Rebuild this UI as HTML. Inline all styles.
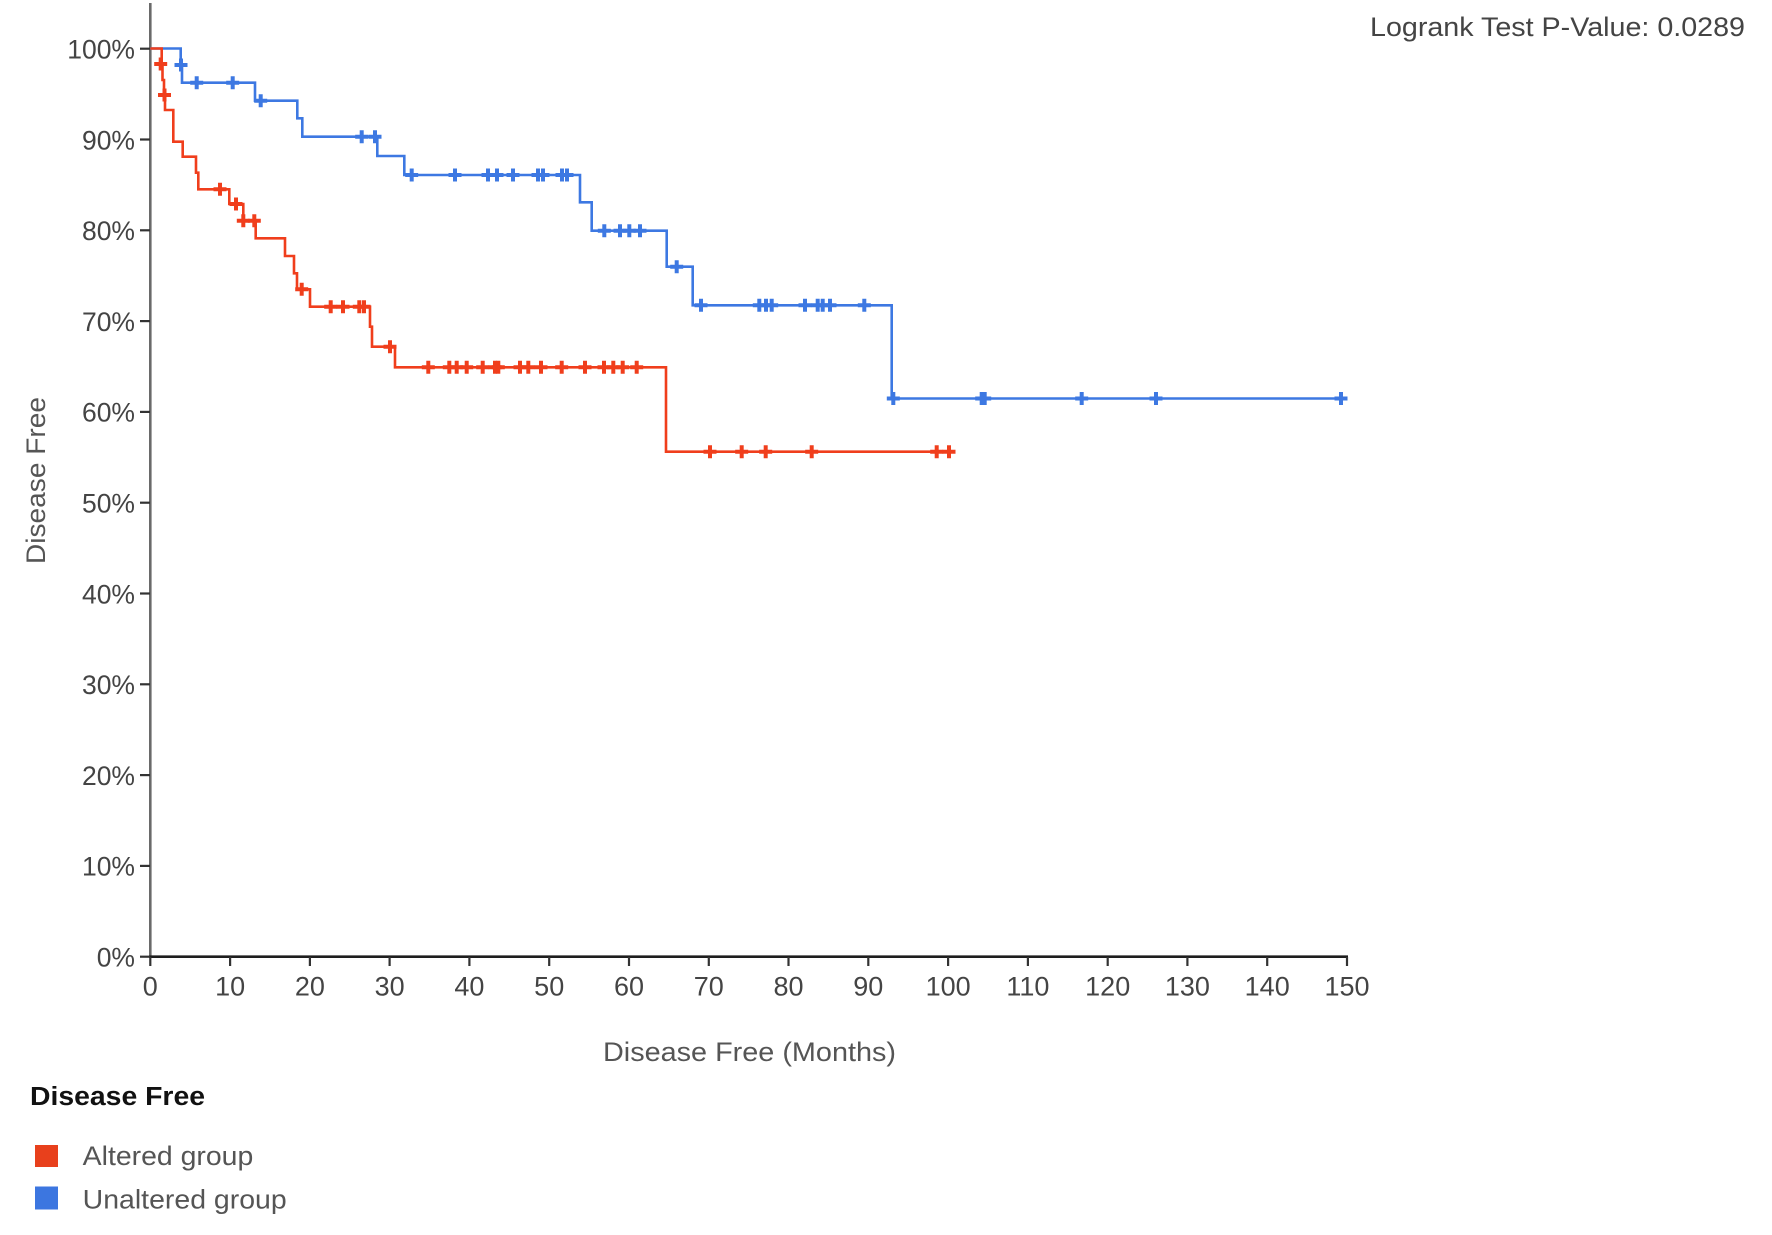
<!DOCTYPE html>
<html>
<head>
<meta charset="utf-8">
<style>
html,body{margin:0;padding:0;background:#fff;}
svg{display:block;}
text{font-family:"Liberation Sans",Arial,sans-serif;}
</style>
</head>
<body>
<svg width="1772" height="1235" viewBox="0 0 1772 1235" xmlns="http://www.w3.org/2000/svg">
<rect width="1772" height="1235" fill="#fff"/>

<!-- Axes -->
<line x1="150.3" y1="3" x2="150.3" y2="957.5" stroke="#6a6a6a" stroke-width="2.6"/>
<line x1="149" y1="956.7" x2="1348" y2="956.7" stroke="#1e1e1e" stroke-width="2.6"/>

<!-- Y ticks -->
<g stroke="#333" stroke-width="2.2">
<line x1="140" y1="48.7" x2="150" y2="48.7"/>
<line x1="140" y1="139.5" x2="150" y2="139.5"/>
<line x1="140" y1="230.3" x2="150" y2="230.3"/>
<line x1="140" y1="321.1" x2="150" y2="321.1"/>
<line x1="140" y1="411.9" x2="150" y2="411.9"/>
<line x1="140" y1="502.7" x2="150" y2="502.7"/>
<line x1="140" y1="593.5" x2="150" y2="593.5"/>
<line x1="140" y1="684.3" x2="150" y2="684.3"/>
<line x1="140" y1="775.1" x2="150" y2="775.1"/>
<line x1="140" y1="865.9" x2="150" y2="865.9"/>
<line x1="140" y1="956.7" x2="150" y2="956.7"/>
</g>
<g font-size="26.5" fill="#444" text-anchor="end">
<text x="135" y="58.5">100%</text>
<text x="135" y="149.3">90%</text>
<text x="135" y="240.1">80%</text>
<text x="135" y="330.9">70%</text>
<text x="135" y="421.7">60%</text>
<text x="135" y="512.5">50%</text>
<text x="135" y="603.3">40%</text>
<text x="135" y="694.1">30%</text>
<text x="135" y="784.9">20%</text>
<text x="135" y="875.7">10%</text>
<text x="135" y="966.5">0%</text>
</g>

<!-- X ticks -->
<g stroke="#333" stroke-width="2.2">
<line x1="150.3" y1="957" x2="150.3" y2="966"/>
<line x1="230.1" y1="957" x2="230.1" y2="966"/>
<line x1="309.9" y1="957" x2="309.9" y2="966"/>
<line x1="389.6" y1="957" x2="389.6" y2="966"/>
<line x1="469.4" y1="957" x2="469.4" y2="966"/>
<line x1="549.2" y1="957" x2="549.2" y2="966"/>
<line x1="629.0" y1="957" x2="629.0" y2="966"/>
<line x1="708.8" y1="957" x2="708.8" y2="966"/>
<line x1="788.5" y1="957" x2="788.5" y2="966"/>
<line x1="868.3" y1="957" x2="868.3" y2="966"/>
<line x1="948.1" y1="957" x2="948.1" y2="966"/>
<line x1="1027.9" y1="957" x2="1027.9" y2="966"/>
<line x1="1107.7" y1="957" x2="1107.7" y2="966"/>
<line x1="1187.4" y1="957" x2="1187.4" y2="966"/>
<line x1="1267.2" y1="957" x2="1267.2" y2="966"/>
<line x1="1347" y1="957" x2="1347" y2="966"/>
</g>
<g font-size="27" fill="#444" text-anchor="middle">
<text x="150.3" y="995.5">0</text>
<text x="230.1" y="995.5">10</text>
<text x="309.9" y="995.5">20</text>
<text x="389.6" y="995.5">30</text>
<text x="469.4" y="995.5">40</text>
<text x="549.2" y="995.5">50</text>
<text x="629.0" y="995.5">60</text>
<text x="708.8" y="995.5">70</text>
<text x="788.5" y="995.5">80</text>
<text x="868.3" y="995.5">90</text>
<text x="948.1" y="995.5">100</text>
<text x="1027.9" y="995.5">110</text>
<text x="1107.7" y="995.5">120</text>
<text x="1187.4" y="995.5">130</text>
<text x="1267.2" y="995.5">140</text>
<text x="1347" y="995.5">150</text>
</g>

<!-- Axis titles -->
<text x="603" y="1061" font-size="27" fill="#555" textLength="293" lengthAdjust="spacingAndGlyphs">Disease Free (Months)</text>
<text transform="translate(45,564) rotate(-90)" x="0" y="0" font-size="27" fill="#555" textLength="167" lengthAdjust="spacingAndGlyphs">Disease Free</text>

<!-- Logrank -->
<text x="1370" y="36" font-size="27" fill="#444" textLength="375" lengthAdjust="spacingAndGlyphs">Logrank Test P-Value: 0.0289</text>

<!-- Blue curve (unaltered) -->
<path fill="none" stroke="#3d78e2" stroke-width="2.6" d="M150.3,48.5 H180.7 V65 H182 V82.7 H255 V100.7 H297.3 V118.3 H302.3 V136.7 H377.3 V156 H404.3 V175 H580 V202.3 H591.7 V230.7 H666.7 V266.7 H692.7 V305.3 H891.7 V398.5 H1341"/>
<!-- Red curve (altered) -->
<path fill="none" stroke="#f03e1c" stroke-width="2.6" d="M150.3,48.5 H161.7 V65 H162.5 V80 H164 V95 H165 V110 H173.3 V141.7 H182.7 V156.7 H196 V172.7 H198.3 V189.3 H229.3 V204 H243.3 V220.7 H255.7 V238.3 H285 V256 H294 V273.3 H297 V289.3 H310 V306.7 H370 V326.7 H372 V346.7 H395 V367.3 H666 V451.7 H950"/>

<!-- Censor marks -->
<g stroke="#3d78e2" stroke-width="4" fill="none">
<path d="M174.5,65h13M181,58.5v13"/>
<path d="M190.2,82.7h13M196.7,76.2v13"/>
<path d="M226.2,82.7h13M232.7,76.2v13"/>
<path d="M254.2,100.7h13M260.7,94.2v13"/>
<path d="M355.2,136.7h13M361.7,130.2v13"/>
<path d="M368.5,136.7h13M375,130.2v13"/>
<path d="M405.2,175h13M411.7,168.5v13"/>
<path d="M448.5,175h13M455,168.5v13"/>
<path d="M481.5,175h13M488,168.5v13"/>
<path d="M490.5,175h13M497,168.5v13"/>
<path d="M506.5,175h13M513,168.5v13"/>
<path d="M531.5,175h13M538,168.5v13"/>
<path d="M536.5,175h13M543,168.5v13"/>
<path d="M555.5,175h13M562,168.5v13"/>
<path d="M560.5,175h13M567,168.5v13"/>
<path d="M597.8,230.7h13M604.3,224.2v13"/>
<path d="M613.5,230.7h13M620,224.2v13"/>
<path d="M622.8,230.7h13M629.3,224.2v13"/>
<path d="M633.5,230.7h13M640,224.2v13"/>
<path d="M670.2,266.7h13M676.7,260.2v13"/>
<path d="M694.5,305.3h13M701,298.8v13"/>
<path d="M752.8,305.3h13M759.3,298.8v13"/>
<path d="M759.5,305.3h13M766,298.8v13"/>
<path d="M765.2,305.3h13M771.7,298.8v13"/>
<path d="M798.5,305.3h13M805,298.8v13"/>
<path d="M811.2,305.3h13M817.7,298.8v13"/>
<path d="M816.2,305.3h13M822.7,298.8v13"/>
<path d="M823.5,305.3h13M830,298.8v13"/>
<path d="M857.8,305.3h13M864.3,298.8v13"/>
<path d="M886.8,398.5h13M893.3,392v13"/>
<path d="M975.2,398.5h13M981.7,392v13"/>
<path d="M978.2,398.5h13M984.7,392v13"/>
<path d="M1075.2,398.5h13M1081.7,392v13"/>
<path d="M1149.5,398.5h13M1156,392v13"/>
<path d="M1334.5,398.5h13M1341,392v13"/>
</g>
<g stroke="#f03e1c" stroke-width="4" fill="none">
<path d="M154.2,64h13M160.7,57.5v13"/>
<path d="M158,95h13M164.5,88.5v13"/>
<path d="M213.5,189.3h13M220,182.8v13"/>
<path d="M229.5,204h13M236,197.5v13"/>
<path d="M236.8,220.7h13M243.3,214.2v13"/>
<path d="M247.8,220.7h13M254.3,214.2v13"/>
<path d="M295.2,289.3h13M301.7,282.8v13"/>
<path d="M324.2,306.7h13M330.7,300.2v13"/>
<path d="M336.5,306.7h13M343,300.2v13"/>
<path d="M352.8,306.7h13M359.3,300.2v13"/>
<path d="M357.5,306.7h13M364,300.2v13"/>
<path d="M383.5,346.7h13M390,340.2v13"/>
<path d="M421.8,367.3h13M428.3,360.8v13"/>
<path d="M442.8,367.3h13M449.3,360.8v13"/>
<path d="M450.2,367.3h13M456.7,360.8v13"/>
<path d="M460.2,367.3h13M466.7,360.8v13"/>
<path d="M476.2,367.3h13M482.7,360.8v13"/>
<path d="M488.5,367.3h13M495,360.8v13"/>
<path d="M491.8,367.3h13M498.3,360.8v13"/>
<path d="M513.5,367.3h13M520,360.8v13"/>
<path d="M521.8,367.3h13M528.3,360.8v13"/>
<path d="M534.5,367.3h13M541,360.8v13"/>
<path d="M555.2,367.3h13M561.7,360.8v13"/>
<path d="M578.5,367.3h13M585,360.8v13"/>
<path d="M597.5,367.3h13M604,360.8v13"/>
<path d="M606.8,367.3h13M613.3,360.8v13"/>
<path d="M616.2,367.3h13M622.7,360.8v13"/>
<path d="M630.2,367.3h13M636.7,360.8v13"/>
<path d="M703.5,451.7h13M710,445.2v13"/>
<path d="M735.2,451.7h13M741.7,445.2v13"/>
<path d="M759.2,451.7h13M765.7,445.2v13"/>
<path d="M805.2,451.7h13M811.7,445.2v13"/>
<path d="M930.2,451.7h13M936.7,445.2v13"/>
<path d="M942.5,451.7h13M949,445.2v13"/>
</g>

<!-- Legend -->
<text x="30" y="1105" font-size="25.5" font-weight="bold" fill="#111" textLength="175" lengthAdjust="spacingAndGlyphs">Disease Free</text>
<rect x="35" y="1145" width="23" height="22" fill="#e8401c"/>
<rect x="35" y="1186.5" width="23" height="23" fill="#3c76e0"/>
<text x="82.7" y="1165" font-size="27" fill="#555" textLength="170.6" lengthAdjust="spacingAndGlyphs">Altered group</text>
<text x="82.7" y="1208.3" font-size="27" fill="#555" textLength="204" lengthAdjust="spacingAndGlyphs">Unaltered group</text>
</svg>
</body>
</html>
